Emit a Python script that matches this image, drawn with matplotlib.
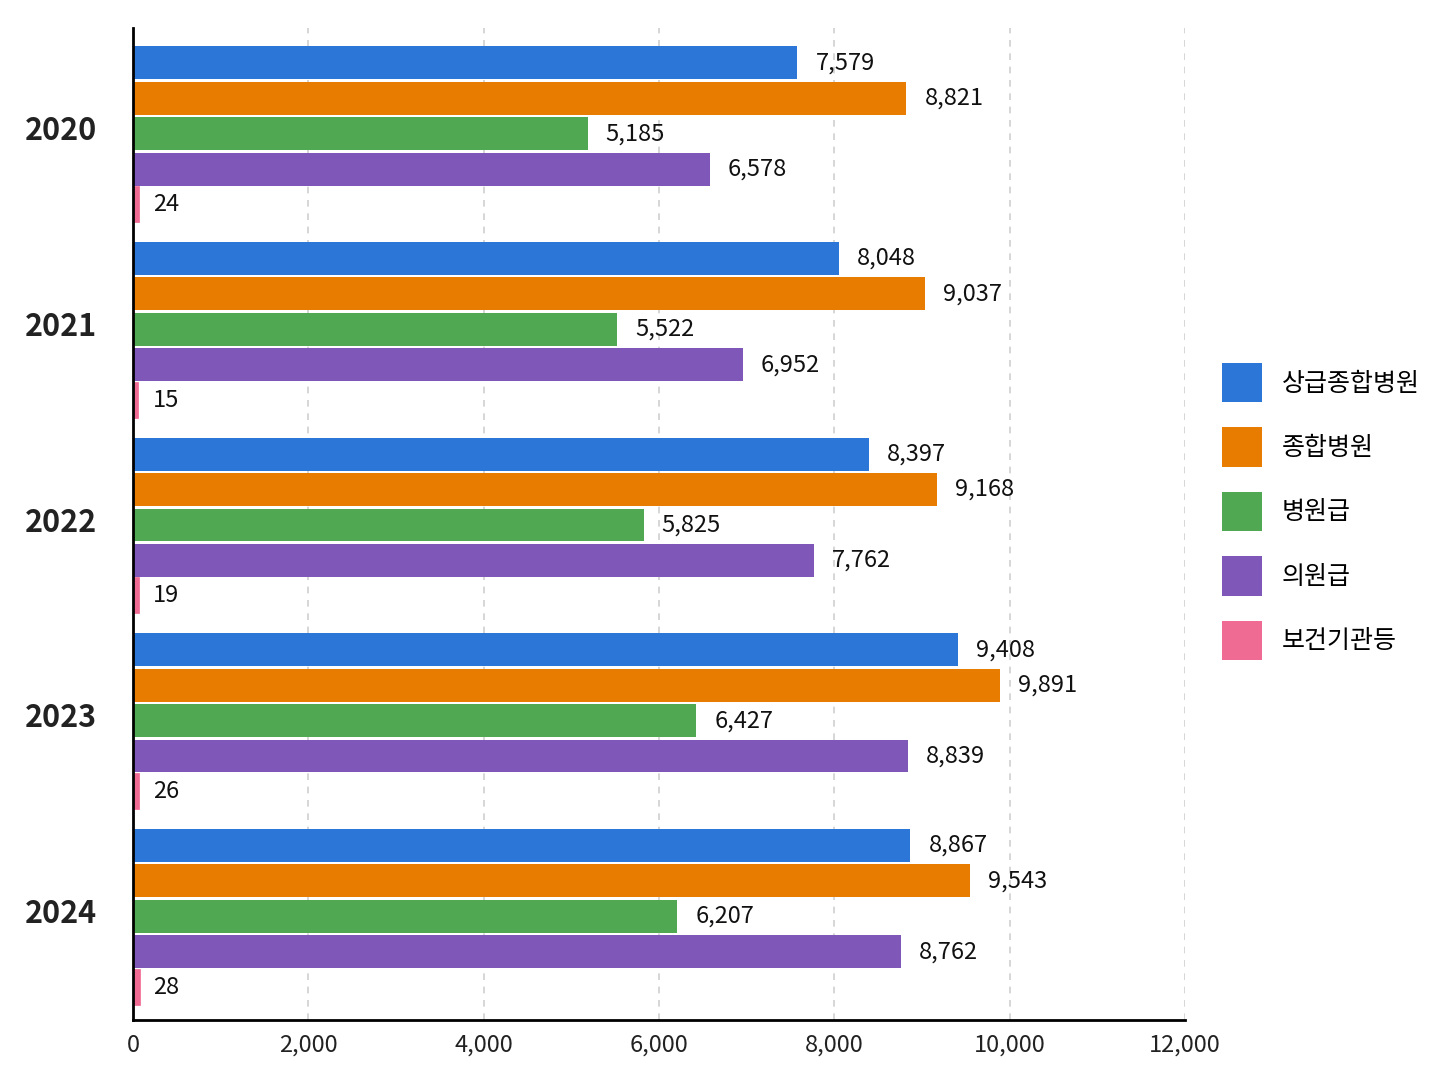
import numpy as np
import matplotlib.pyplot as plt

plt.rcParams['font.family'] = ['Noto Sans CJK KR', 'DejaVu Sans']

years = ['2020', '2021', '2022', '2023', '2024']
series = ['상급종합병원', '종합병원', '병원급', '의원급', '보건기관등']
tertiary = [7579, 8048, 8397, 9408, 8867]
general = [8821, 9037, 9168, 9891, 9543]
hospital = [5185, 5522, 5825, 6427, 6207]
clinic = [6578, 6952, 7762, 8839, 8762]
public = [24, 15, 19, 26, 28]
colors = ['#2B76D6', '#E87C00', '#51A853', '#7E57B8', '#F06B94']

values = [tertiary, general, hospital, clinic, public]

fig = plt.figure(figsize=(14.48, 10.86), dpi=100)
ax = fig.add_axes([0.0919, 0.0608, 0.7265, 0.9134])

y = np.arange(len(years))
pitch = 0.181
height = 0.168
shift = 0.03
for i, (name, vals, c) in enumerate(zip(series, values, colors)):
    pos = y + (i - 2) * pitch + shift
    # tiny bars get an outline so they stay visible
    lw = 7 if max(vals) < 100 else 0
    ax.barh(pos, vals, height=height if lw == 0 else height - 0.03,
            color=c, label=name, edgecolor=c, linewidth=lw)
    for p, v in zip(pos, vals):
        ax.annotate(f'{v:,}', (v, p), xytext=(13, 0), textcoords='offset points',
                    va='center', ha='left', fontsize=17, color='#111111')

ax.set_xlim(0, 12000)
ax.set_ylim(4.56, -0.51)
ax.set_xticks(np.arange(0, 12001, 2000))
ax.set_xticklabels([f'{t:,}' for t in range(0, 12001, 2000)], fontsize=17)
ax.set_yticks(y)
ax.set_yticklabels(years, fontsize=22, fontweight='bold', color='#222222')
ax.tick_params(axis='x', length=0, pad=10, colors='#222222')
ax.tick_params(axis='y', length=0, pad=26)
ax.grid(axis='x', linestyle=(0, (4, 4)), color='#d0d0d0', linewidth=1.2)
ax.set_axisbelow(True)
for s in ['top', 'right']:
    ax.spines[s].set_visible(False)
ax.spines['left'].set_linewidth(2)
ax.spines['bottom'].set_linewidth(2)
ax.spines['left'].set_zorder(5)

leg = fig.legend(loc='center left', bbox_to_anchor=(0.844, 0.529), frameon=False,
                 fontsize=18, handlelength=1.6, handleheight=2.05,
                 labelspacing=1.0, handletextpad=0.8, borderpad=0, borderaxespad=0)
for h in leg.legend_handles:
    h.set_linewidth(0)

fig.savefig('out.png', dpi=100, facecolor='white')
